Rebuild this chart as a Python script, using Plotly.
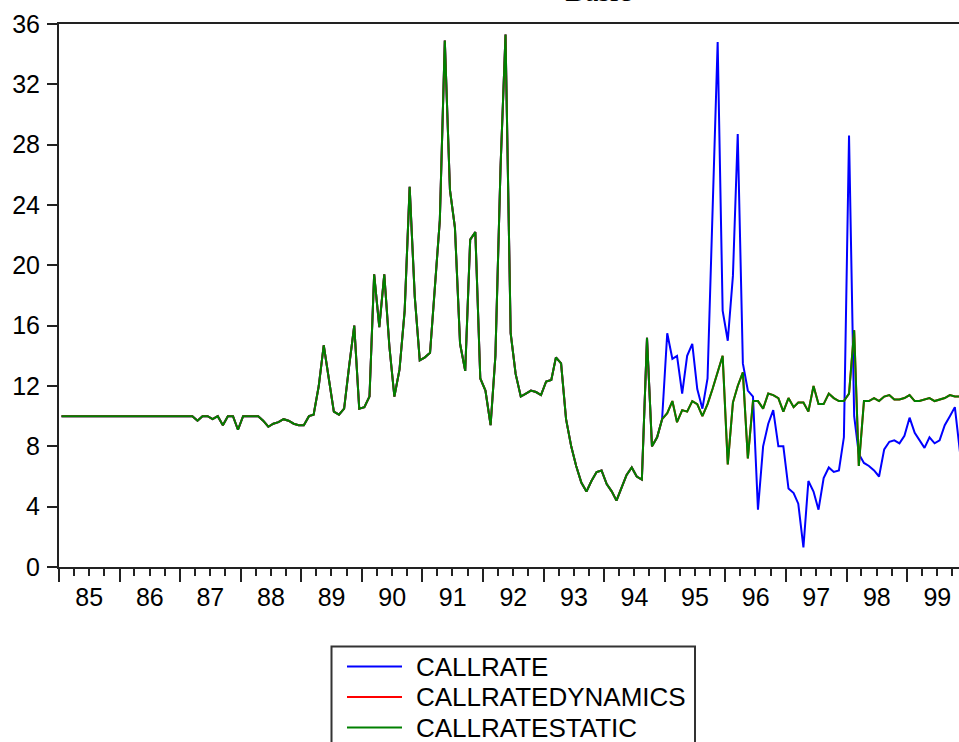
import pandas as pd
import plotly.graph_objects as go

# monthly observations, 1985:01 - 1999:11
months = pd.date_range("1985-01-01", "1999-11-01", freq="MS") + pd.Timedelta(days=15)

# actual call rate up to 1994:12 (forecast series equal the actuals here)
history_85_94 = [
    10.0, 10.0, 10.0, 10.0, 10.0, 10.0, 10.0, 10.0, 10.0, 10.0, 10.0, 10.0,
    10.0, 10.0, 10.0, 10.0, 10.0, 10.0, 10.0, 10.0, 10.0, 10.0, 10.0, 10.0,
    10.0, 10.0, 10.0, 9.7, 10.0, 10.0, 9.8, 10.0, 9.4, 10.0, 10.0, 9.1,
    10.0, 10.0, 10.0, 10.0, 9.7, 9.3, 9.5, 9.6, 9.8, 9.7, 9.5, 9.4,
    9.4, 10.0, 10.1, 12.0, 14.7, 12.6, 10.3, 10.1, 10.5, 13.3, 16.0, 10.5,
    10.6, 11.3, 19.4, 15.9, 19.4, 14.6, 11.3, 13.1, 17.0, 25.2, 17.9, 13.7,
    13.9, 14.2, 18.3, 23.0, 34.9, 25.0, 22.5, 14.8, 13.0, 21.7, 22.2, 12.5,
    11.7, 9.4, 14.0, 26.5, 35.3, 15.5, 12.8, 11.3, 11.5, 11.7, 11.6, 11.4,
    12.3, 12.4, 13.9, 13.5, 9.8, 8.0, 6.7, 5.6, 5.0, 5.7, 6.3, 6.4,
    5.5, 5.0, 4.4, 5.3, 6.1, 6.6, 6.0, 5.8, 15.2, 8.0, 8.6, 9.8,
]

# forecast period 1995:01 - 1999:11
callrate_95_99 = [
    15.5, 13.8, 14.0, 11.5, 14.0, 14.8, 11.8, 10.5, 12.5, 23.5, 34.8, 17.0,
    15.0, 19.3, 28.7, 13.5, 11.7, 11.3, 3.8, 8.0, 9.5, 10.4, 8.0, 8.0,
    5.2, 4.9, 4.2, 1.3, 5.7, 5.0, 3.8, 5.9, 6.6, 6.3, 6.4, 8.6,
    28.6, 10.0, 7.5, 6.9, 6.7, 6.4, 6.0, 7.8, 8.3, 8.4, 8.2, 8.7,
    9.9, 8.9, 8.4, 7.9, 8.6, 8.2, 8.4, 9.4, 10.0, 10.6, 7.6,
]
static_95_99 = [
    10.2, 11.0, 9.6, 10.4, 10.3, 11.0, 10.8, 10.0, 10.8, 11.8, 13.0, 14.0,
    6.8, 10.9, 12.0, 12.9, 7.2, 11.0, 11.0, 10.5, 11.5, 11.4, 11.2, 10.3,
    11.2, 10.6, 10.9, 10.9, 10.3, 12.0, 10.8, 10.8, 11.5, 11.2, 11.0, 11.0,
    11.5, 15.7, 6.7, 11.0, 11.0, 11.2, 11.0, 11.3, 11.4, 11.1, 11.1, 11.2,
    11.4, 11.0, 11.0, 11.1, 11.2, 11.0, 11.1, 11.2, 11.4, 11.3, 11.3,
]
# no lagged dependent term: dynamic forecast coincides with the static one
dynamic_95_99 = list(static_95_99)

callrate = history_85_94 + callrate_95_99
callrate_dyn = history_85_94 + dynamic_95_99
callrate_static = history_85_94 + static_95_99

series_names = ["CALLRATE", "CALLRATEDYNAMICS", "CALLRATESTATIC"]
series_colors = ["#0000ff", "#ff0000", "#008000"]
series_values = [callrate, callrate_dyn, callrate_static]

font = "Liberation Sans, Arial, sans-serif"

# plot area in pixels (used to place the hand-drawn legend box)
L, R, T, B = 59, 959, 24, 567
def px(x):
    return (x - L) / (R - L)
def py(y):
    return (B - y) / (B - T)

fig = go.Figure()
for name, color, vals in zip(series_names, series_colors, series_values):
    fig.add_trace(go.Scatter(x=months, y=vals, name=name, mode="lines",
                             line=dict(color=color, width=2)))

# EViews-like legend box below the axis (cut by the bottom of the picture)
shapes = [dict(type="rect", xref="paper", yref="paper",
               x0=px(331.5), x1=px(695), y0=py(646.5), y1=py(780),
               line=dict(color="#333", width=2), fillcolor="white", layer="above")]
annotations = []
row_y = [666.5, 697, 727.5]
for name, color, ry in zip(series_names, series_colors, row_y):
    shapes.append(dict(type="line", xref="paper", yref="paper",
                       x0=px(347), x1=px(402), y0=py(ry), y1=py(ry),
                       line=dict(color=color, width=2)))
    annotations.append(dict(text=name, xref="paper", yref="paper", x=px(414), y=py(ry),
                            xanchor="left", yanchor="middle", showarrow=False,
                            font=dict(family=font, size=26, color="black")))

# title, mostly above the visible window as in the original
annotations.append(dict(text="Basic", xref="paper", yref="paper", x=px(598), y=1.028,
                        xanchor="center", yanchor="bottom", showarrow=False,
                        font=dict(family="Liberation Serif, Times New Roman, serif", size=30)))

fig.update_layout(
    width=959, height=742,
    margin=dict(l=L, r=959 - R, t=T, b=742 - B, autoexpand=False),
    paper_bgcolor="white", plot_bgcolor="white",
    font=dict(family=font, size=25, color="black"),
    showlegend=False,
    shapes=shapes,
    annotations=annotations,
)

fig.update_xaxes(
    type="date", range=["1985-01-01", "1999-11-10"],
    tick0="1985-01-01", dtick="M12", tickformat="%y", ticklabelmode="period",
    ticks="outside", ticklen=13, tickwidth=2, tickcolor="#222",
    minor=dict(dtick="M3", ticks="outside", ticklen=7, tickwidth=2, tickcolor="#222"),
    showline=True, linecolor="#222", linewidth=2, mirror=True,
    showgrid=False, zeroline=False, ticklabelstandoff=-6,
)
fig.update_yaxes(
    range=[0, 36], dtick=4, tick0=0,
    ticks="outside", ticklen=10, tickwidth=2, tickcolor="#222",
    showline=True, linecolor="#222", linewidth=2,
    showgrid=False, zeroline=False, ticklabelstandoff=2,
)

fig.write_html("out.html", config={"displayModeBar": False},
               post_script="document.body.style.margin='0px';")
